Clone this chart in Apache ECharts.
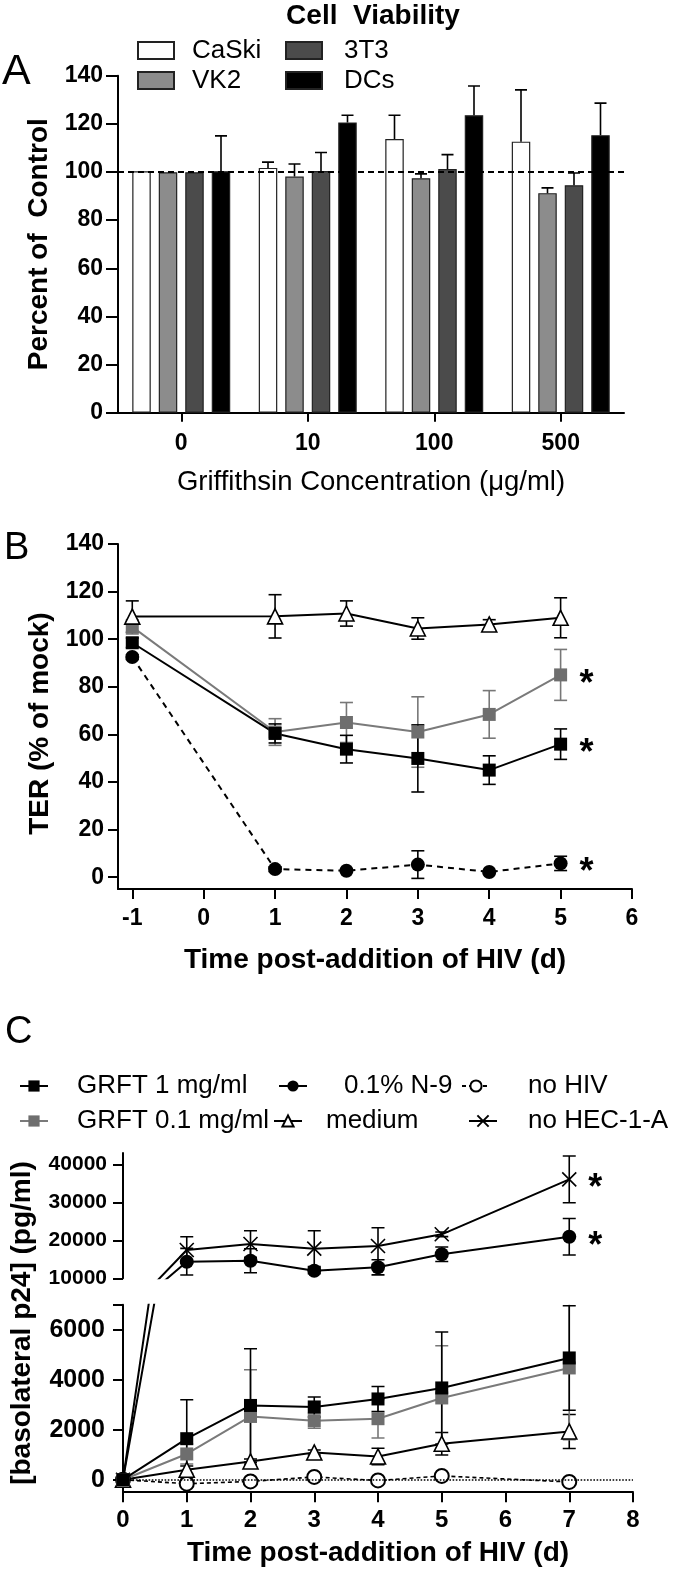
<!DOCTYPE html>
<html><head><meta charset="utf-8">
<script src="https://cdn.jsdelivr.net/npm/echarts@6/dist/echarts.min.js"></script>
<style>html,body{margin:0;padding:0;background:#fff}#c{width:680px;height:1572px}</style>
</head><body><div id="c"></div><script>
// ---------- Panel A : cell viability ----------
const concLabels = ['0', '10', '100', '500'];
const viabTicks = [0, 20, 40, 60, 80, 100, 120, 140];
const viabCaSki = [100.3, 101.7, 113.7, 112.6];
const viabCaSkiErr = [0, 2.4, 9.9, 21.5];
const viabVK2 = [99.9, 98.1, 97.4, 91.2];
const viabVK2Err = [0, 5.2, 1.8, 2.2];
const viab3T3 = [99.9, 100.4, 101.2, 94.5];
const viab3T3Err = [0, 7.7, 6.0, 5.1];
const viabDCs = [100.3, 120.6, 123.6, 115.3];
const viabDCsErr = [14.7, 3.0, 12.1, 13.3];
const controlLevel = 100;

// ---------- Panel B : TER ----------
const daysB = [-1, 1, 2, 3, 4, 5];
const dayTicksB = [-1, 0, 1, 2, 3, 4, 5, 6];
const terTicks = [0, 20, 40, 60, 80, 100, 120, 140];
const terGrft1 = [98.5, 60.4, 53.8, 49.9, 45.0, 55.9];
const terGrft1Err = [2, 4, 5.8, 14.1, 6, 6.4];
const terGrft01 = [105.2, 61.0, 65.0, 61.0, 68.4, 85.0];
const terGrft01Err = [3, 5.6, 8.4, 14.8, 10, 10.7];
const terN9 = [92.5, 3.4, 2.7, 5.3, 2.2, 5.8];
const terN9Err = [1, 1, 0.6, 5.8, 0.5, 3];
const terMedium = [109.5, 109.6, 110.8, 104.5, 106.2, 109.0];
const terMediumErr = [6.6, 9.1, 5.3, 4.5, 2, 8.4];

// ---------- Panel C : basolateral p24 ----------
const daysC = [0, 1, 2, 3, 4, 5, 7];
const dayTicksC = [0, 1, 2, 3, 4, 5, 6, 7, 8];
const p24UpperTicks = [10000, 20000, 30000, 40000];
const p24LowerTicks = [0, 2000, 4000, 6000];
const p24LowerTickMarks = [0, 2000, 4000, 6000, 7000];
const p24Grft1 = [0, 1640, 2970, 2910, 3230, 3670, 4870];
const p24Grft1Err = [0, 1560, 2270, 400, 500, 2240, 2090];
const p24Grft01 = [0, 1030, 2530, 2360, 2440, 3270, 4470];
const p24Grft01Err = [0, 400, 1870, 300, 770, 2090, 2870];
const p24N9 = [0, 14370, 14630, 12000, 12890, 16320, 20950];
const p24N9Err = [0, 3500, 3150, 800, 2000, 1900, 4800];
const p24Medium = [0, 400, 730, 1090, 930, 1440, 1930];
const p24MediumErr = [0, 150, 100, 100, 330, 450, 680];
const p24NoHIV = [0, -160, -70, 110, -30, 150, -90];
const p24NoHEC = [0, 17450, 19030, 17800, 18500, 21580, 36050];
const p24NoHECErr = [0, 3500, 3500, 4700, 4800, 600, 6150];

// ---------- helpers ----------
const FONT = '"Liberation Sans", Arial, Helvetica, sans-serif';
function isObj(o){return o && typeof o === 'object' && !Array.isArray(o);}
function merge(a, b){
  const out = Object.assign({}, a);
  if (!b) return out;
  for (const k in b){
    out[k] = (isObj(a[k]) && isObj(b[k])) ? merge(a[k], b[k]) : b[k];
  }
  return out;
}
const fmt = v => String(v);
function baseAxis(extra){
  return merge({
    type: 'value',
    splitLine: {show: false},
    axisLine: {show: true, onZero: false, lineStyle: {color: '#000', width: 2}},
    axisTick: {show: true, length: 10, lineStyle: {color: '#000', width: 2}},
    axisLabel: {color: '#000', fontFamily: FONT, fontWeight: 'bold', fontSize: 23, formatter: fmt},
    nameTextStyle: {color: '#000', fontFamily: FONT, fontWeight: 'bold', fontSize: 28}
  }, extra);
}
function errSeries(xi, yi, xs, ys, es, color, opts){
  opts = opts || {};
  const cap = opts.cap || 6.5, lw = opts.lw || 1.6, dx = opts.offset || 0;
  return {
    type: 'custom', xAxisIndex: xi, yAxisIndex: yi, z: opts.z || 1, clip: true, silent: true,
    data: xs.map((x, k) => [x, ys[k], es[k]]),
    renderItem: function(params, api){
      const e = api.value(2);
      if (!e) return {type: 'group', children: []};
      const x = api.value(0), y = api.value(1);
      const hi = api.coord([x, y + e]);
      const lo = api.coord([x, opts.upOnly ? y : y - e]);
      const st = {stroke: color, lineWidth: lw, fill: null};
      const kids = [
        {type: 'line', shape: {x1: hi[0] + dx, y1: hi[1], x2: lo[0] + dx, y2: lo[1]}, style: st},
        {type: 'line', shape: {x1: hi[0] + dx - cap, y1: hi[1], x2: hi[0] + dx + cap, y2: hi[1]}, style: st}
      ];
      if (!opts.upOnly) kids.push({type: 'line', shape: {x1: lo[0] + dx - cap, y1: lo[1], x2: lo[0] + dx + cap, y2: lo[1]}, style: st});
      return {type: 'group', children: kids};
    },
    markLine: opts.markLine
  };
}
function lineSeries(name, xi, yi, xs, ys, extra){
  return merge({
    type: 'line', name: name, xAxisIndex: xi, yAxisIndex: yi, z: 3, clip: true,
    data: xs.map((x, k) => [x, ys[k]]),
    symbol: 'circle', symbolSize: 13, showSymbol: true,
    lineStyle: {color: '#000', width: 2},
    itemStyle: {color: '#000'},
    emphasis: {disabled: true}, silent: true
  }, extra);
}
const star = {show: true, formatter: '*', distance: 19, offset: [0, 10], color: '#000',
  fontFamily: FONT, fontWeight: 'bold', fontSize: 36, valueAnimation: false};

// ---------- panel A bars ----------
const BAR_W = 18.5, BAR_GAP = 8;
const barNames = ['CaSki', 'VK2', '3T3', 'DCs'];
const barVals = [viabCaSki, viabVK2, viab3T3, viabDCs];
const barErrs = [viabCaSkiErr, viabVK2Err, viab3T3Err, viabDCsErr];
const barColors = ['#ffffff', '#8c8c8c', '#4b4b4b', '#000000'];

const series = [];
barNames.forEach((n, i) => {
  series.push({
    type: 'bar', name: n, xAxisIndex: 0, yAxisIndex: 0, data: barVals[i],
    barWidth: BAR_W, barGap: (BAR_GAP / BAR_W * 100).toFixed(1) + '%',
    itemStyle: {color: barColors[i], borderColor: '#222', borderWidth: 1.2},
    emphasis: {disabled: true}, silent: true, z: 2
  });
});
barNames.forEach((n, i) => {
  series.push(errSeries(0, 0, concLabels.map((c, k) => k), barVals[i], barErrs[i], '#000', {
    upOnly: true, cap: 6, lw: 1.6, z: 3, offset: (i - 1.5) * (BAR_W + BAR_GAP),
    markLine: i === 3 ? {silent: true, symbol: ['none', 'none'], label: {show: false},
      lineStyle: {type: [6, 4], color: '#000', width: 2}, data: [{yAxis: controlLevel}]} : undefined
  }));
});

// ---------- panel B ----------
series.push(errSeries(1, 1, daysB, terGrft01, terGrft01Err, '#777'));
series.push(errSeries(1, 1, daysB, terGrft1, terGrft1Err, '#000'));
series.push(errSeries(1, 1, daysB, terN9, terN9Err, '#000'));
series.push(errSeries(1, 1, daysB, terMedium, terMediumErr, '#000'));
series.push(lineSeries('B GRFT 0.1', 1, 1, daysB, terGrft01, {
  symbol: 'rect', symbolSize: 13, itemStyle: {color: '#6e6e6e'}, lineStyle: {color: '#7a7a7a'}, endLabel: star}));
series.push(lineSeries('B GRFT 1', 1, 1, daysB, terGrft1, {
  symbol: 'rect', symbolSize: 13, endLabel: star}));
series.push(lineSeries('B N-9', 1, 1, daysB, terN9, {
  symbol: 'circle', symbolSize: 14, lineStyle: {type: [6, 5]}, endLabel: star}));
series.push(lineSeries('B medium', 1, 1, daysB, terMedium, {
  symbol: 'triangle', symbolSize: 15, z: 4,
  itemStyle: {color: '#fff', borderColor: '#000', borderWidth: 1.6}}));

// ---------- panel C ----------
const crossPath = 'path://M0,0L10,10M10,0L0,10';
const crossStyle = {symbol: crossPath, symbolSize: 14,
  itemStyle: {color: 'rgba(0,0,0,0)', borderColor: '#000', borderWidth: 1.6}};
// upper grid
series.push(errSeries(2, 2, daysC, p24N9, p24N9Err, '#000'));
series.push(errSeries(2, 2, daysC, p24NoHEC, p24NoHECErr, '#000'));
series.push(lineSeries('0.1% N-9', 2, 2, daysC, p24N9, {symbol: 'circle', symbolSize: 14, endLabel: star}));
series.push(lineSeries('no HEC-1-A', 2, 2, daysC, p24NoHEC, merge(crossStyle, {endLabel: star})));
// lower grid
series.push(errSeries(3, 3, daysC, p24Medium, p24MediumErr, '#000'));
series.push(errSeries(3, 3, daysC, p24Grft01, p24Grft01Err, '#777'));
series.push(errSeries(3, 3, daysC, p24Grft1, p24Grft1Err, '#000'));
series.push(lineSeries('no HIV', 3, 3, daysC, p24NoHIV, {
  symbol: 'emptyCircle', symbolSize: 14, lineStyle: {type: [4, 3], width: 1.6},
  itemStyle: {color: '#000', borderWidth: 1.5},
  markLine: {silent: true, symbol: ['none', 'none'], label: {show: false},
    lineStyle: {type: 'dotted', color: '#000', width: 1.6}, data: [{yAxis: 0}]}}));
series.push(lineSeries('0.1% N-9', 3, 3, daysC, p24N9, {symbol: 'circle', symbolSize: 14}));
series.push(lineSeries('no HEC-1-A', 3, 3, daysC, p24NoHEC, crossStyle));
series.push(lineSeries('medium', 3, 3, daysC, p24Medium, {
  symbol: 'triangle', symbolSize: 15, itemStyle: {color: '#fff', borderColor: '#000', borderWidth: 1.6}}));
series.push(lineSeries('GRFT 0.1 mg/ml', 3, 3, daysC, p24Grft01, {
  symbol: 'rect', symbolSize: 13, itemStyle: {color: '#6e6e6e'}, lineStyle: {color: '#7a7a7a'}}));
series.push(lineSeries('GRFT 1 mg/ml', 3, 3, daysC, p24Grft1, {symbol: 'rect', symbolSize: 13, z: 4}));

// ---------- legends ----------
function leg(name, left, top, pad, w, h, extra){
  return merge({
    data: [name], left: left, top: top, padding: 0, itemWidth: w, itemHeight: h,
    selectedMode: false, orient: 'horizontal',
    textStyle: {fontFamily: FONT, fontSize: 26, color: '#000', lineHeight: 26, padding: [0, 0, 0, pad]}
  }, extra);
}
const legends = [
  leg('CaSki', 137, 37.5, 13, 36, 17, {icon: 'rect'}),
  leg('VK2', 137, 67.5, 13, 36, 17, {icon: 'rect'}),
  leg('3T3', 285, 37.5, 17, 36, 17, {icon: 'rect'}),
  leg('DCs', 285, 67.5, 17, 36, 17, {icon: 'rect'}),
  leg('GRFT 1 mg/ml', 19, 1073, 24, 28, 14),
  leg('0.1% N-9', 278, 1073, 32, 28, 14),
  leg('no HIV', 461, 1073, 33, 28, 14),
  leg('GRFT 0.1 mg/ml', 19, 1108, 24, 28, 14),
  leg('medium', 273, 1108, 19, 28, 14),
  leg('no HEC-1-A', 468, 1108, 26, 28, 14)
];

const option = {
  animation: false,
  backgroundColor: '#fff',
  textStyle: {fontFamily: FONT},
  grid: [
    {left: 118, top: 75.7, width: 506, height: 337, outerBoundsMode: 'none'},
    {left: 118, top: 544, width: 514, height: 345.1, outerBoundsMode: 'none'},
    {left: 123, top: 1152.9, width: 510, height: 125.4, outerBoundsMode: 'none'},
    {left: 123, top: 1304.7, width: 510, height: 187.5, outerBoundsMode: 'none'}
  ],
  xAxis: [
    baseAxis({type: 'category', gridIndex: 0, data: concLabels,
      axisTick: {alignWithLabel: true, length: 9},
      axisLabel: {margin: 19},
      name: 'Griffithsin Concentration (μg/ml)', nameLocation: 'middle', nameGap: 56,
      nameTextStyle: {fontWeight: 'normal', fontSize: 27.5}}),
    baseAxis({gridIndex: 1, min: -1.2, max: 6,
      axisTick: {customValues: dayTicksB}, axisLabel: {customValues: dayTicksB, margin: 18},
      name: 'Time post-addition of HIV (d)', nameLocation: 'middle', nameGap: 57}),
    baseAxis({gridIndex: 2, min: 0, max: 8, show: false}),
    baseAxis({gridIndex: 3, min: 0, max: 8,
      axisTick: {customValues: dayTicksC}, axisLabel: {customValues: dayTicksC, margin: 16, fontSize: 24},
      name: 'Time post-addition of HIV (d)', nameLocation: 'middle', nameGap: 47})
  ],
  yAxis: [
    baseAxis({gridIndex: 0, min: 0, max: 140,
      axisTick: {customValues: viabTicks, length: 12}, axisLabel: {customValues: viabTicks, margin: 15},
      name: 'Percent of  Control', nameLocation: 'middle', nameGap: 64}),
    baseAxis({gridIndex: 1, min: -5, max: 140,
      axisTick: {customValues: terTicks}, axisLabel: {customValues: terTicks, margin: 14},
      name: 'TER (% of mock)', nameLocation: 'middle', nameGap: 63,
      nameTextStyle: {padding: [0, 14, 0, 0]}}),
    baseAxis({gridIndex: 2, min: 10000, max: 43000,
      axisTick: {customValues: p24UpperTicks}, axisLabel: {customValues: p24UpperTicks, margin: 16, fontSize: 21}}),
    baseAxis({gridIndex: 3, min: -500, max: 7000,
      axisTick: {customValues: p24LowerTickMarks}, axisLabel: {customValues: p24LowerTicks, margin: 18, fontSize: 25}})
  ],
  legend: legends,
  series: series,
  graphic: [
    {type: 'text', x: 2, y: 72, silent: true, style: {text: 'A', font: '43px ' + FONT, fill: '#000', textAlign: 'left', textVerticalAlign: 'middle'}},
    {type: 'text', x: 4, y: 549, silent: true, style: {text: 'B', font: '38px ' + FONT, fill: '#000', textAlign: 'left', textVerticalAlign: 'middle'}},
    {type: 'text', x: 5, y: 1033, silent: true, style: {text: 'C', font: '38px ' + FONT, fill: '#000', textAlign: 'left', textVerticalAlign: 'middle'}},
    {type: 'text', x: 373, y: 16, silent: true, style: {text: 'Cell  Viability', font: 'bold 28px ' + FONT, fill: '#000', textAlign: 'center', textVerticalAlign: 'middle'}},
    {type: 'text', x: 22, y: 1323, rotation: Math.PI / 2, silent: true, style: {text: '[basolateral p24] (pg/ml)', font: 'bold 28px ' + FONT, fill: '#000', textAlign: 'center', textVerticalAlign: 'middle'}}
  ]
};
const chart = echarts.init(document.getElementById('c'), null, {renderer: 'canvas'});
chart.setOption(option);
</script></body></html>
